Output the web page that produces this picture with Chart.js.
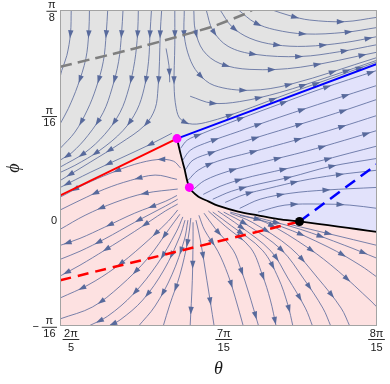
<!DOCTYPE html>
<html><head><meta charset="utf-8">
<script src="https://cdn.jsdelivr.net/npm/chart.js@4.4.0/dist/chart.umd.min.js"></script>
<style>html,body{margin:0;padding:0;background:#fff;}canvas{display:block;}</style>
</head><body>
<canvas id="c" width="390" height="384"></canvas>
<script>
// ---- axis ranges and ticks ----
const xMin = 1.2416, xMax = 1.6762;
const yMin = -Math.PI/16, yMax = Math.PI/8;
const xTickValues = [2*Math.PI/5, 7*Math.PI/15, 8*Math.PI/15];
const xTickNum = ['2π','7π','8π'];
const xTickDen = ['5','15','15'];
const yTickValues = [Math.PI/8, Math.PI/16, 0, -Math.PI/16];
const yTickSign = ['','','','−'];
const yTickNum = ['π','π','0','π'];
const yTickDen = ['8','16','','16'];

// ---- region boundaries ----
const redLine = [[1.242,0.047],[1.402,0.153]];
const blueLine = [[1.402,0.153],[1.676,0.292]];
const blackCurve = [[1.402,0.153],[1.407,0.124],[1.412,0.098],[1.419,0.062],[1.431,0.045],[1.445,0.036],[1.458,0.028],[1.486,0.017],[1.513,0.010],[1.541,0.003],[1.570,-0.0015],[1.595,-0.006],[1.623,-0.011],[1.650,-0.016],[1.676,-0.021]];
const grayDash = [[1.242,0.287],[1.344,0.321],[1.449,0.361],[1.498,0.387],[1.505,0.3927]];
const redDash = [[1.242,-0.111],[1.570,-0.0015]];
const blueDash = [[1.570,-0.0015],[1.676,0.105]];
const magentaPoints = [[1.402,0.153],[1.419,0.062]];
const blackPoints = [[1.570,-0.0015]];

// ---- streamlines: upper (gray) region, flowing left ----
const G1=[[1.257,0.393],[1.256,0.349],[1.251,0.308],[1.244,0.280],[1.242,0.269]];
const G2=[[1.282,0.393],[1.281,0.349],[1.277,0.302],[1.266,0.252],[1.253,0.209],[1.242,0.181]];
const G3=[[1.307,0.393],[1.305,0.349],[1.301,0.297],[1.291,0.247],[1.279,0.206],[1.262,0.165],[1.242,0.135]];
const G4=[[1.328,0.393],[1.326,0.349],[1.322,0.297],[1.313,0.247],[1.301,0.202],[1.280,0.159],[1.258,0.127],[1.242,0.113]];
const G5=[[1.349,0.393],[1.348,0.349],[1.344,0.297],[1.336,0.247],[1.324,0.202],[1.303,0.161],[1.276,0.127],[1.242,0.100]];
const G6=[[1.367,0.393],[1.365,0.349],[1.363,0.297],[1.357,0.247],[1.347,0.206],[1.328,0.168],[1.296,0.131],[1.262,0.103],[1.242,0.090]];
const G7=[[1.381,0.393],[1.379,0.349],[1.378,0.297],[1.376,0.247],[1.372,0.209],[1.358,0.178],[1.324,0.144],[1.283,0.109],[1.242,0.075]];
const G8=[[1.395,0.163],[1.365,0.142],[1.324,0.116],[1.283,0.090],[1.242,0.062]];
const G9=[[1.387,0.321],[1.391,0.289],[1.392,0.258]];
// gray region, flowing right
const R1=[[1.532,0.393],[1.557,0.382],[1.584,0.374],[1.632,0.371],[1.676,0.379]];
const R2=[[1.486,0.393],[1.509,0.369],[1.536,0.356],[1.578,0.348],[1.632,0.351],[1.676,0.360]];
const R3=[[1.461,0.393],[1.477,0.362],[1.502,0.340],[1.536,0.328],[1.578,0.325],[1.632,0.332],[1.676,0.343]];
const R4=[[1.442,0.393],[1.451,0.355],[1.472,0.325],[1.509,0.310],[1.571,0.306],[1.625,0.315],[1.676,0.328]];
const R5=[[1.425,0.393],[1.427,0.355],[1.438,0.317],[1.461,0.293],[1.502,0.282],[1.571,0.286],[1.676,0.314]];
const R6=[[1.412,0.393],[1.412,0.345],[1.419,0.304],[1.431,0.275],[1.453,0.252],[1.502,0.243],[1.557,0.254],[1.676,0.304]];
const R6b=[[1.420,0.232],[1.450,0.219],[1.488,0.222],[1.543,0.239],[1.612,0.269],[1.676,0.299]];
const R7=[[1.399,0.393],[1.399,0.327],[1.398,0.252],[1.401,0.209],[1.407,0.189],[1.423,0.180],[1.447,0.185],[1.488,0.203],[1.557,0.238],[1.625,0.271],[1.676,0.296]];
// blue region
const B1=[[1.407,0.135],[1.416,0.150],[1.434,0.161],[1.475,0.183],[1.530,0.211],[1.598,0.245],[1.676,0.280]];
const B2=[[1.410,0.113],[1.420,0.131],[1.440,0.144],[1.488,0.167],[1.543,0.193],[1.612,0.224],[1.676,0.252]];
const B3=[[1.413,0.094],[1.424,0.113],[1.450,0.127],[1.495,0.148],[1.557,0.174],[1.619,0.200],[1.676,0.226]];
const B4=[[1.417,0.075],[1.431,0.094],[1.458,0.111],[1.502,0.127],[1.564,0.150],[1.625,0.174],[1.676,0.196]];
const B5=[[1.425,0.059],[1.440,0.075],[1.472,0.092],[1.519,0.109],[1.578,0.129],[1.632,0.150],[1.676,0.168]];
const B6=[[1.438,0.049],[1.461,0.064],[1.495,0.079],[1.536,0.092],[1.591,0.109],[1.639,0.126],[1.676,0.139]];
const B6b=[[1.451,0.040],[1.477,0.055],[1.513,0.068],[1.557,0.081],[1.612,0.101],[1.676,0.116]];
const B7=[[1.468,0.034],[1.495,0.049],[1.527,0.060],[1.571,0.074],[1.619,0.085],[1.676,0.094]];
const B8=[[1.488,0.023],[1.516,0.040],[1.557,0.051],[1.605,0.057],[1.676,0.062]];
const B9=[[1.513,0.016],[1.550,0.029],[1.598,0.031],[1.639,0.029],[1.676,0.023]];
// pink region
const P1=[[1.407,0.098],[1.397,0.111],[1.376,0.114],[1.344,0.105],[1.310,0.088],[1.276,0.068],[1.242,0.044]];
const P2=[[1.402,0.077],[1.372,0.085],[1.338,0.075],[1.303,0.059],[1.269,0.038],[1.242,0.020]];
const P3=[[1.403,0.059],[1.358,0.051],[1.317,0.034],[1.276,0.010],[1.242,-0.016]];
const P4=[[1.402,0.047],[1.386,0.036],[1.344,0.014],[1.303,-0.012],[1.269,-0.033],[1.242,-0.046]];
const P4b=[[1.403,0.040],[1.386,0.027],[1.344,-0.003],[1.303,-0.034],[1.269,-0.057],[1.242,-0.072]];
const P5=[[1.403,0.031],[1.386,0.018],[1.344,-0.020],[1.303,-0.055],[1.269,-0.083],[1.242,-0.103]];
const P6=[[1.403,0.020],[1.390,-0.001],[1.354,-0.047],[1.317,-0.088],[1.280,-0.120],[1.242,-0.144]];
const P7=[[1.406,0.012],[1.392,-0.014],[1.362,-0.070],[1.324,-0.122],[1.286,-0.161],[1.242,-0.183]];
const P8=[[1.410,0.007],[1.401,-0.021],[1.375,-0.081],[1.342,-0.137],[1.307,-0.178],[1.280,-0.197]];
const P9=[[1.413,0.001],[1.406,-0.029],[1.384,-0.092],[1.355,-0.148],[1.324,-0.185],[1.307,-0.197]];
const P10=[[1.417,0.001],[1.412,-0.036],[1.395,-0.101],[1.372,-0.159],[1.349,-0.197]];
const P11=[[1.421,0.005],[1.417,-0.036],[1.406,-0.101],[1.392,-0.157],[1.383,-0.197]];
const P12=[[1.424,-0.003],[1.424,-0.036],[1.423,-0.111],[1.420,-0.197]];
const P13=[[1.428,0.001],[1.434,-0.036],[1.443,-0.111],[1.453,-0.197]];
const P14=[[1.432,0.010],[1.440,-0.018],[1.458,-0.057],[1.472,-0.101],[1.482,-0.144],[1.493,-0.197]];
const P15=[[1.439,0.014],[1.454,-0.014],[1.479,-0.055],[1.490,-0.092],[1.500,-0.133],[1.514,-0.197]];
const P16=[[1.445,0.018],[1.468,-0.010],[1.503,-0.051],[1.519,-0.101],[1.530,-0.148],[1.538,-0.197]];
const P16b=[[1.451,0.016],[1.477,-0.010],[1.519,-0.055],[1.541,-0.107],[1.554,-0.157],[1.561,-0.197]];
const P17=[[1.458,0.018],[1.488,-0.010],[1.531,-0.057],[1.554,-0.107],[1.578,-0.163],[1.588,-0.197]];
const P17b=[[1.466,0.016],[1.497,-0.007],[1.545,-0.054],[1.575,-0.107],[1.602,-0.163],[1.613,-0.197]];
const P18=[[1.475,0.014],[1.505,-0.003],[1.558,-0.051],[1.595,-0.107],[1.627,-0.163],[1.639,-0.197]];
const P19=[[1.488,0.010],[1.523,-0.003],[1.582,-0.051],[1.623,-0.094],[1.668,-0.150],[1.676,-0.161]];
const P20=[[1.475,0.016],[1.543,-0.010],[1.609,-0.049],[1.653,-0.083],[1.676,-0.105]];
const P21=[[1.509,0.007],[1.571,-0.016],[1.632,-0.046],[1.676,-0.070]];
const P22=[[1.557,-0.007],[1.612,-0.025],[1.676,-0.046]];

const grayLines=[G1,G2,G3,G4,G5,G6,G7,G8,G9,R1,R2,R3,R4,R5,R6,R6b,R7];
const blueLines=[B1,B2,B3,B4,B5,B6,B6b,B7,B8,B9];
const pinkLines=[P1,P2,P3,P4,P4b,P5,P6,P7,P8,P9,P10,P11,P12,P13,P14,P15,P16,P16b,P17,P17b,P18,P19,P20,P21,P22];

// ---- styles ----
const fillGray='#e3e3e3', fillBlue='#e2e2fb', fillPink='#fde1e1';
const streamColor='rgba(88,104,155,0.9)', arrowColor='#586a9c';

const toXY = a => a.map(p => ({x:p[0], y:p[1]}));
const streamSet = (l, i, stagger) => ({
  data: toXY(l), showLine:true, borderColor:streamColor, borderWidth:0.9,
  pointRadius:0, tension:0.35, order:10, stream:true,
  arrowStart: stagger ? 22 + ((i*17) % 23) : 24
});
const streamSets = [
  ...grayLines.map((l,i)=>streamSet(l,i,false)),
  ...blueLines.map((l,i)=>streamSet(l,i,true)),
  ...pinkLines.map((l,i)=>streamSet(l,i,true))
];
const lineSet = (arr, color, width, dash, order, tension) => ({
  data: toXY(arr), showLine:true, borderColor:color, borderWidth:width,
  borderDash:dash||[], pointRadius:0, tension:tension||0, order:order, borderCapStyle:'butt'
});

function densePath(pts){
  const out=[];
  for(let i=0;i<pts.length-1;i++){
    const a=pts[i], b=pts[i+1];
    const c1x=(a.cp2x!==undefined)?a.cp2x:a.x, c1y=(a.cp2y!==undefined)?a.cp2y:a.y;
    const c2x=(b.cp1x!==undefined)?b.cp1x:b.x, c2y=(b.cp1y!==undefined)?b.cp1y:b.y;
    for(let k=0;k<16;k++){
      const t=k/16, u=1-t;
      out.push([u*u*u*a.x+3*u*u*t*c1x+3*u*t*t*c2x+t*t*t*b.x,
                u*u*u*a.y+3*u*u*t*c1y+3*u*t*t*c2y+t*t*t*b.y]);
    }
  }
  const l=pts[pts.length-1]; out.push([l.x,l.y]);
  return out;
}
function pointAt(path, cum, s){
  let i=1; while(i<cum.length-1 && cum[i]<s) i++;
  const s0=cum[i-1], s1=cum[i], t=(s1>s0)?(s-s0)/(s1-s0):0;
  return [path[i-1][0]+(path[i][0]-path[i-1][0])*t, path[i-1][1]+(path[i][1]-path[i-1][1])*t];
}

const plugin = {
  id:'phase',
  beforeDatasetsDraw(chart){
    const {ctx, chartArea:ca, scales:{x,y}} = chart;
    const P = p => [x.getPixelForValue(p[0]), y.getPixelForValue(p[1])];
    const poly = (pts, color) => {
      ctx.beginPath(); pts.map(P).forEach((q,i)=> i?ctx.lineTo(q[0],q[1]):ctx.moveTo(q[0],q[1]));
      ctx.closePath(); ctx.fillStyle=color; ctx.fill();
    };
    ctx.save();
    ctx.beginPath(); ctx.rect(ca.left, ca.top, ca.right-ca.left, ca.bottom-ca.top); ctx.clip();
    const bEnd = blackCurve[blackCurve.length-1];
    poly([[xMin,yMax],[xMax,yMax],blueLine[1],blueLine[0],redLine[0]], fillGray);
    poly([blueLine[0],blueLine[1],[xMax,bEnd[1]],...blackCurve.slice().reverse()], fillBlue);
    poly([redLine[0],...blackCurve,[xMax,yMin],[xMin,yMin]], fillPink);
    ctx.restore();
  },
  afterDatasetDraw(chart, args){
    const ds = chart.data.datasets[args.index];
    if(!ds.stream) return;
    const {ctx, chartArea:ca} = chart;
    const path = densePath(args.meta.data);
    const cum=[0];
    for(let i=1;i<path.length;i++) cum.push(cum[i-1]+Math.hypot(path[i][0]-path[i-1][0], path[i][1]-path[i-1][1]));
    const total=cum[cum.length-1];
    ctx.save();
    ctx.beginPath(); ctx.rect(ca.left, ca.top, ca.right-ca.left, ca.bottom-ca.top); ctx.clip();
    ctx.fillStyle=arrowColor;
    for(let s=ds.arrowStart; s<total-6; s+=46){
      const p=pointAt(path,cum,s), a=pointAt(path,cum,Math.max(0,s-2)), b=pointAt(path,cum,Math.min(total,s+2));
      let dx=b[0]-a[0], dy=b[1]-a[1]; const L=Math.hypot(dx,dy)||1; dx/=L; dy/=L;
      const nx=-dy, ny=dx;
      ctx.beginPath();
      ctx.moveTo(p[0]+dx*4.5, p[1]+dy*4.5);
      ctx.lineTo(p[0]-dx*3.5+nx*2.7, p[1]-dy*3.5+ny*2.7);
      ctx.lineTo(p[0]-dx*3.5-nx*2.7, p[1]-dy*3.5-ny*2.7);
      ctx.closePath(); ctx.fill();
    }
    ctx.restore();
  },
  afterDraw(chart){
    const {ctx, chartArea:ca, scales:{x,y}} = chart;
    ctx.save();
    ctx.strokeStyle='#a3a3a3'; ctx.lineWidth=1;
    ctx.strokeRect(Math.round(ca.left)+0.5, Math.round(ca.top)+0.5, Math.round(ca.right-ca.left)-1, Math.round(ca.bottom-ca.top)-1);
    ctx.fillStyle='#1a1a1a'; ctx.textAlign='center'; ctx.textBaseline='middle';
    const font='11px "Liberation Sans", Arial, sans-serif';
    ctx.font=font;
    // x tick fractions
    xTickValues.forEach((v,i)=>{
      const cx=x.getPixelForValue(v);
      const w=Math.max(ctx.measureText(xTickNum[i]).width, ctx.measureText(xTickDen[i]).width)+3;
      ctx.fillText(xTickNum[i], cx, 334);
      ctx.fillRect(cx-w/2, 339, w, 0.9);
      ctx.fillText(xTickDen[i], cx, 347.5);
    });
    // y tick fractions
    yTickValues.forEach((v,i)=>{
      const cy=y.getPixelForValue(v);
      if(!yTickDen[i]){ ctx.textAlign='right'; ctx.fillText(yTickNum[i], 57, cy); ctx.textAlign='center'; return; }
      const w=Math.max(ctx.measureText(yTickNum[i]).width, ctx.measureText(yTickDen[i]).width)+3;
      const cx=57-w/2, bar=cy+0.8;
      ctx.fillText(yTickNum[i], cx, bar-5.5);
      ctx.fillRect(cx-w/2, bar, w, 0.9);
      ctx.fillText(yTickDen[i], cx, bar+7);
      if(yTickSign[i]){ ctx.fillText(yTickSign[i], cx-w/2-6, bar); }
    });
    // axis titles
    ctx.font='italic 18px "Liberation Serif", "DejaVu Serif", serif';
    ctx.fillText('θ', (ca.left+ca.right)/2, 369);
    ctx.save(); ctx.translate(14, (ca.top+ca.bottom)/2); ctx.rotate(-Math.PI/2);
    ctx.fillText('ϕ', 0, 0); ctx.restore();
    ctx.restore();
  }
};

new Chart(document.getElementById('c'), {
  type:'scatter',
  data:{ datasets:[
    ...streamSets,
    lineSet(grayDash,'#7f7f7f',2.5,[12,6],5,0.2),
    lineSet(redDash,'#ff0000',2.5,[11,7],5),
    lineSet(blueDash,'#0000ff',2.5,[12,7],5),
    lineSet(redLine,'#ff0000',2,null,3),
    lineSet(blueLine,'#0000ff',2,null,3),
    lineSet(blackCurve,'#000000',1.8,null,3,0.3),
    {data:toXY(magentaPoints), pointRadius:4.5, pointBackgroundColor:'#ff00ff', pointBorderWidth:0, order:0},
    {data:toXY(blackPoints), pointRadius:4.5, pointBackgroundColor:'#000000', pointBorderWidth:0, order:0}
  ]},
  options:{
    responsive:false, animation:false, devicePixelRatio:1, events:[],
    layout:{padding:{left:0, right:13, top:10, bottom:0}},
    plugins:{legend:{display:false}, tooltip:{enabled:false}},
    scales:{
      x:{type:'linear', min:xMin, max:xMax, grid:{display:false, drawTicks:false}, border:{display:false}, ticks:{display:false},
         afterFit(s){ s.height=58; }},
      y:{type:'linear', min:yMin, max:yMax, grid:{display:false, drawTicks:false}, border:{display:false}, ticks:{display:false},
         afterFit(s){ s.width=60; }}
    }
  },
  plugins:[plugin]
});
</script>
</body></html>
